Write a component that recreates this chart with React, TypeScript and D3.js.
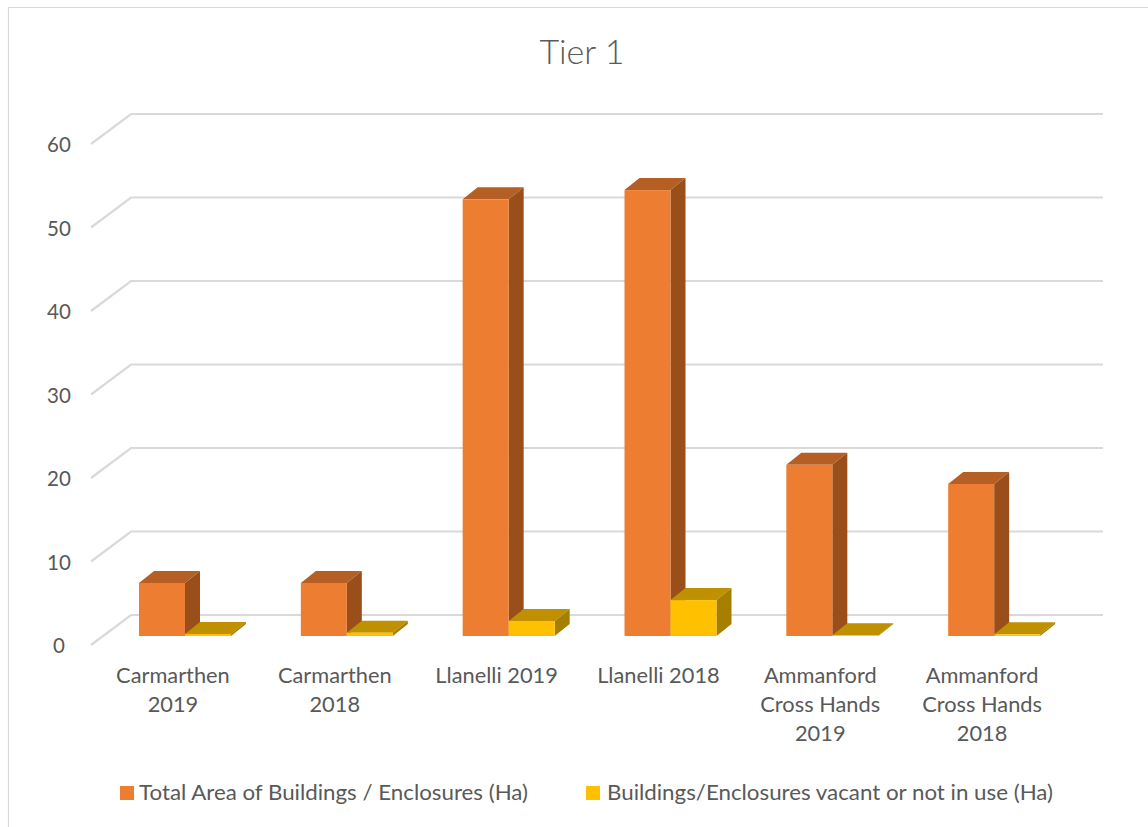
import * as d3 from "d3";

const categories = [
  ["Carmarthen", "2019"],
  ["Carmarthen", "2018"],
  ["Llanelli 2019"],
  ["Llanelli 2018"],
  ["Ammanford", "Cross Hands", "2019"],
  ["Ammanford", "Cross Hands", "2018"],
];
const totalArea = [6.35, 6.35, 52.3, 53.4, 20.5, 18.2];
const vacant = [0.25, 0.4, 1.8, 4.3, 0.1, 0.2];
const seriesNames = [
  "Total Area of Buildings / Enclosures (Ha)",
  "Buildings/Enclosures vacant or not in use (Ha)",
];
const yTicks = [0, 10, 20, 30, 40, 50, 60];

const width = 1148;
const height = 827;
const font = "Lato, sans-serif";
const textColor = "#595959";
const gridColor = "#d9d9d9";

// face colours: front, top, side
const faces = [
  ["#ED7D31", "#B65F24", "#9A4F1B"],
  ["#FFC000", "#BF9000", "#A67E00"],
];

// back wall of the 3D box, the front plane sits further down and left
const y = d3.scaleLinear().domain([0, 60]).range([615, 114]);
const x0 = d3.scaleBand<number>().domain(d3.range(categories.length)).range([104, 1075]);
const x1 = d3.scaleBand<number>().domain([0, 1]).range([35, 127]);

const wallDx = 41;
const wallDy = 30;
const barBaseShift = 21;
const depthX = 15;
const depthY = 12;

function Bar({ left, value, colors }: { left: number; value: number; colors: string[] }) {
  const w = x1.bandwidth();
  const top = y(value) + barBaseShift;
  const base = y(0) + barBaseShift;
  const r = left + w;
  const poly = (pts: number[][]) => {
    const p = d3.path();
    pts.forEach(([a, b], i) => (i ? p.lineTo(a, b) : p.moveTo(a, b)));
    p.closePath();
    return p.toString();
  };
  return (
    <g>
      <path
        d={poly([[left, top], [r, top], [r + depthX, top - depthY], [left + depthX, top - depthY]])}
        fill={colors[1]}
      />
      <path
        d={poly([[r, top], [r + depthX, top - depthY], [r + depthX, base - depthY], [r, base]])}
        fill={colors[2]}
      />
      <rect x={left} y={top} width={w} height={base - top} fill={colors[0]} />
    </g>
  );
}

export default function App() {
  return (
    <svg
      width={width}
      height={height}
      viewBox={`0 0 ${width} ${height}`}
      style={{ position: "absolute", left: 0, top: 0, background: "#fff" }}
    >
      {/* chart frame, runs off the picture on the right and bottom */}
      <path d={`M8.5,${height} V7.5 H${width}`} fill="none" stroke={gridColor} strokeWidth={1.2} />

      <text x={582} y={64} textAnchor="middle" fontFamily={font} fontSize={34} fontWeight={300} fill={textColor}>
        Tier 1
      </text>

      {yTicks.map((t) => (
        <g key={t}>
          <path
            d={`M${130 - wallDx + 2},${y(t) + wallDy} L${131},${y(t)} H1103`}
            fill="none"
            stroke={gridColor}
            strokeWidth={2.2}
          />
          <text
            x={59}
            y={y(t) + wallDy + 8}
            textAnchor="middle"
            fontFamily={font}
            fontSize={20.5}
            fill={textColor}
          >
            {t}
          </text>
        </g>
      ))}

      {categories.map((_, i) => (
        <g key={i}>
          <Bar left={x0(i)! + x1(0)!} value={totalArea[i]} colors={faces[0]} />
          <Bar left={x0(i)! + x1(1)!} value={vacant[i]} colors={faces[1]} />
        </g>
      ))}

      {categories.map((lines, i) => (
        <text key={i} textAnchor="middle" fontFamily={font} fontSize={21.8} fill={textColor}>
          {lines.map((l, j) => (
            <tspan key={j} x={x0(i)! + x0.bandwidth() / 2 - 12} y={683 + j * 29}>
              {l}
            </tspan>
          ))}
        </text>
      ))}

      <rect x={120} y={786} width={14} height={14} fill={faces[0][0]} />
      <text x={139} y={800} fontFamily={font} fontSize={21.5} fill={textColor} textLength={389} lengthAdjust="spacingAndGlyphs">
        {seriesNames[0]}
      </text>
      <rect x={586} y={786} width={14} height={14} fill={faces[1][0]} />
      <text x={607} y={800} fontFamily={font} fontSize={21.5} fill={textColor} textLength={446} lengthAdjust="spacingAndGlyphs">
        {seriesNames[1]}
      </text>
    </svg>
  );
}
